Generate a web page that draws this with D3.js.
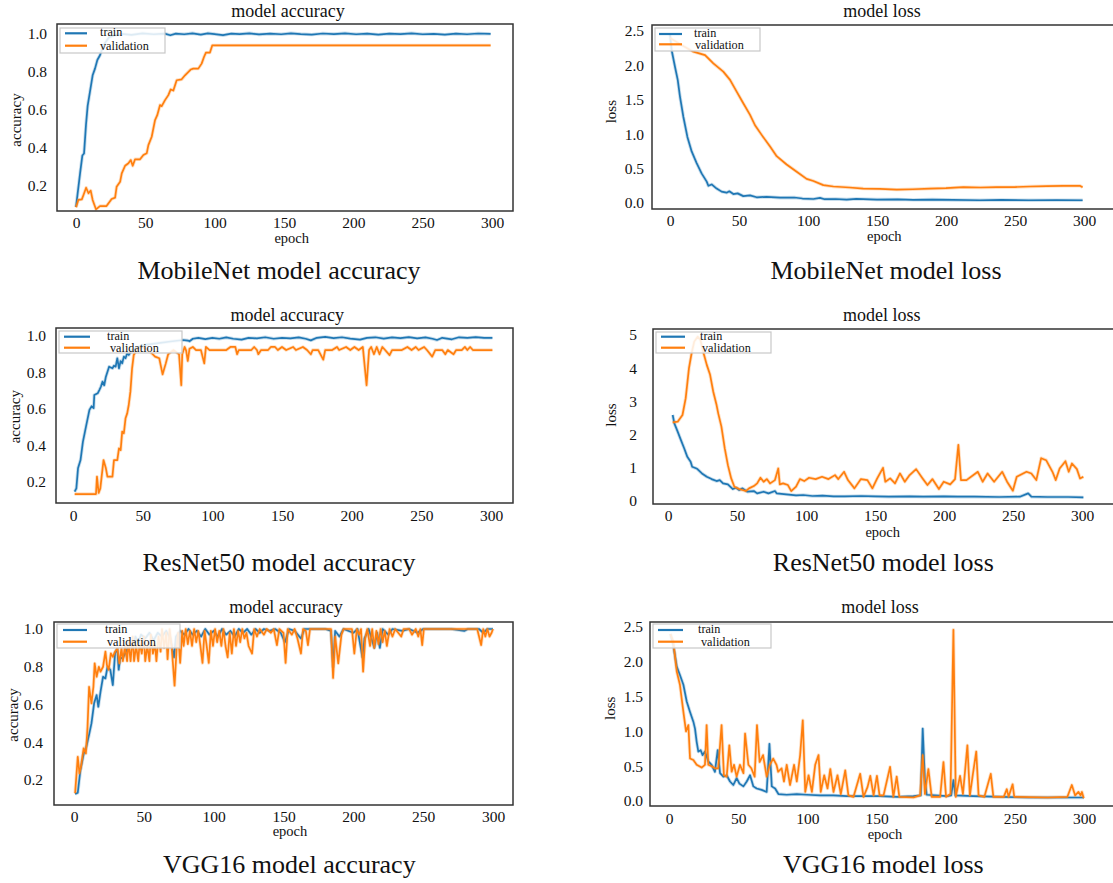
<!DOCTYPE html>
<html>
<head>
<meta charset="utf-8">
<script src="https://cdn.jsdelivr.net/npm/d3@7"></script>
<style>
  body { margin: 0; background: #fff; }
  svg text { font-family: "Liberation Serif", "Times New Roman", serif; fill: #111; }
</style>
</head>
<body>
<svg id="chart" width="1113" height="883"></svg>
<script>
// ---- data: [epoch, value] ----
const mobileAccTrain = [[0,0.09],[3,0.27],[4.6,0.36],[5.8,0.37],[7.2,0.52],[8.4,0.62],[10,0.69],[12,0.78],[13.7,0.815],[15.4,0.86],[17.3,0.885],[18.5,0.91],[21,0.95],[24,0.98],[28,0.99],[33,0.997],[40,0.992],[48,1.0],[56,0.995],[64,0.998],[68,0.99],[72,0.998],[78,0.995],[84,1.0],[90,0.993],[95,1.0],[100,0.996],[106,0.99],[112,0.998],[118,0.996],[125,1.0],[132,0.994],[140,0.998],[148,0.995],[155,1.0],[162,0.996],[170,0.993],[178,0.999],[186,0.996],[194,1.0],[202,0.995],[210,0.998],[218,0.993],[226,0.998],[234,0.996],[242,1.0],[250,0.995],[258,0.997],[266,0.993],[274,0.998],[282,0.995],[290,0.999],[299,0.997]];
const mobileAccVal = [[0,0.089],[1.7,0.127],[4.2,0.13],[5.4,0.153],[7.3,0.191],[9,0.162],[10.6,0.176],[12,0.127],[14.4,0.078],[17.3,0.095],[22,0.095],[25.7,0.132],[28.2,0.139],[29.3,0.196],[31.8,0.222],[33,0.266],[35.4,0.306],[37.8,0.319],[39.5,0.336],[40.9,0.306],[42.6,0.34],[46.2,0.34],[48.6,0.362],[51,0.371],[52.2,0.414],[54.6,0.458],[57,0.545],[58.6,0.571],[60.6,0.624],[61.8,0.618],[64.2,0.65],[66.6,0.676],[68.3,0.706],[70.2,0.7],[72.6,0.754],[76.2,0.759],[78.6,0.78],[82.7,0.81],[84.6,0.815],[88.2,0.815],[90.6,0.841],[92.3,0.876],[93.7,0.899],[96.6,0.899],[98.3,0.937],[299,0.937]];

const mobileLossTrain = [[0,2.45],[1.2,2.22],[3.6,1.98],[5.6,1.79],[7.2,1.55],[9.7,1.25],[12.6,0.96],[15.7,0.75],[19.3,0.58],[22.9,0.43],[26.6,0.31],[27.8,0.25],[30.2,0.27],[33.8,0.21],[37.4,0.165],[41,0.15],[43,0.17],[45.9,0.13],[49,0.14],[53.1,0.1],[58,0.11],[62.8,0.083],[70,0.09],[79.7,0.077],[90,0.08],[96,0.065],[103.9,0.058],[108.7,0.075],[112,0.055],[120,0.058],[128,0.05],[135,0.06],[150,0.05],[165,0.052],[176.3,0.046],[190,0.05],[205,0.044],[224.6,0.04],[240,0.045],[260,0.04],[280,0.042],[299,0.04]];
const mobileLossVal = [[0,2.4],[8,2.3],[16.9,2.2],[25.4,2.15],[31.4,2.03],[38.6,1.91],[43.5,1.79],[48.3,1.62],[53.1,1.45],[58,1.28],[61.6,1.13],[66.4,0.99],[72.5,0.82],[77.3,0.68],[84.5,0.56],[91.8,0.455],[99,0.35],[103.9,0.32],[111.1,0.26],[118.4,0.24],[130,0.225],[140,0.21],[152,0.205],[164.3,0.195],[176,0.2],[188.4,0.21],[200,0.215],[212.6,0.23],[225,0.225],[236.7,0.23],[250,0.232],[260.9,0.24],[273,0.245],[285,0.25],[297,0.25],[299,0.23]];

const resnetAccTrain = [[1.2,0.147],[2.4,0.165],[3.6,0.275],[5.4,0.32],[7.1,0.42],[9.5,0.51],[11.8,0.595],[13.4,0.615],[14.8,0.605],[15.3,0.677],[17.7,0.686],[18.9,0.704],[20,0.722],[21.2,0.75],[22.4,0.73],[23.6,0.777],[25.9,0.832],[28.3,0.823],[29.4,0.837],[30.6,0.832],[31.8,0.878],[33,0.823],[34.2,0.863],[35.3,0.85],[36.5,0.887],[37.7,0.878],[38.9,0.905],[40,0.896],[42,0.92],[50,0.95],[60,0.96],[70,0.97],[79,0.978],[82.4,0.975],[83.6,0.971],[86,0.985],[90,0.99],[95,0.983],[100,0.99],[105,0.985],[110,0.992],[115,0.985],[121,0.98],[126,0.99],[132,0.987],[138,0.993],[144,0.985],[150,0.99],[156,0.987],[162,0.992],[167,0.985],[170.7,0.976],[175,0.99],[181,0.995],[187,0.988],[193,0.993],[199,0.986],[206,0.98],[211,0.99],[217,0.993],[223,0.986],[229,0.992],[235,0.988],[241,0.994],[247,0.987],[253,0.992],[258,0.985],[261.3,0.978],[265,0.99],[271.9,0.982],[277,0.993],[283,0.99],[289,0.994],[295,0.99],[301,0.99]];
const resnetAccVal = [[1.2,0.134],[16.5,0.134],[17.2,0.229],[18.4,0.14],[19.6,0.165],[21.9,0.32],[23.6,0.275],[24.7,0.229],[28.3,0.229],[29.4,0.32],[31.8,0.32],[33,0.384],[34.2,0.375],[35.3,0.476],[36.5,0.467],[37.7,0.549],[38.9,0.576],[40,0.622],[41.2,0.695],[42.4,0.823],[43.6,0.896],[46,0.93],[50,0.94],[54,0.923],[57.2,0.9],[58.9,0.887],[61.9,0.878],[64.3,0.79],[66.6,0.85],[68.3,0.9],[72,0.923],[76.1,0.9],[77.7,0.73],[78.4,0.9],[80.1,0.94],[81.2,0.92],[82.4,0.863],[83.6,0.93],[86,0.94],[88.3,0.923],[91.8,0.923],[94.2,0.85],[95.4,0.94],[98,0.923],[105,0.923],[110,0.923],[113,0.94],[116.5,0.94],[117.8,0.9],[119,0.923],[128,0.923],[130,0.94],[132,0.923],[133,0.9],[135,0.923],[140,0.923],[142,0.94],[145,0.94],[147,0.923],[150,0.94],[153,0.923],[158,0.94],[160,0.923],[165,0.94],[168,0.923],[170.7,0.9],[172,0.923],[176,0.923],[179.6,0.87],[181,0.923],[186,0.923],[189.5,0.94],[191,0.923],[196,0.94],[199,0.923],[202,0.94],[205,0.923],[208,0.94],[210.7,0.73],[212.5,0.923],[214,0.94],[216,0.9],[218,0.94],[220,0.9],[222,0.94],[224,0.923],[227.2,0.895],[229,0.923],[236,0.923],[240,0.94],[243,0.923],[246,0.94],[248,0.923],[252,0.94],[254,0.923],[257.8,0.887],[260,0.923],[265,0.923],[267.2,0.9],[269,0.923],[273.1,0.9],[275,0.923],[279,0.923],[281.3,0.94],[283,0.923],[285,0.94],[287,0.923],[301,0.923]];

const resnetLossTrain = [[3.4,2.59],[4.6,2.34],[7,2.09],[9.3,1.84],[11.7,1.59],[14,1.33],[16.4,1.18],[17.5,1.03],[21.1,0.97],[24.6,0.83],[28.1,0.73],[31.6,0.66],[35.2,0.6],[37.5,0.63],[39.9,0.53],[43.4,0.5],[47,0.36],[49.3,0.4],[51.6,0.33],[54,0.38],[57.5,0.28],[62.2,0.3],[64.6,0.23],[69.3,0.28],[72.8,0.23],[77.5,0.3],[78.7,0.23],[85.7,0.2],[92.8,0.17],[98,0.18],[104.6,0.15],[112,0.16],[120,0.14],[128,0.14],[140,0.15],[150,0.14],[160,0.13],[175,0.14],[185,0.13],[200,0.14],[210,0.13],[222,0.13],[240,0.12],[255,0.13],[261,0.23],[263.3,0.13],[275,0.12],[290,0.12],[301,0.11]];
const resnetLossVal = [[3.4,2.37],[7,2.39],[10.5,2.59],[12.8,3.09],[15.2,4.0],[17.1,4.45],[19,4.8],[21.5,4.95],[23.5,4.85],[25.8,4.45],[28.1,4.1],[30.5,3.8],[32.8,3.29],[35.2,2.89],[36.4,2.64],[38.7,2.24],[41.1,1.59],[43.4,1.08],[45.8,0.68],[48.1,0.43],[51.6,0.36],[56.3,0.3],[58.7,0.38],[62.2,0.45],[64.6,0.53],[67,0.7],[69.3,0.58],[71.6,0.66],[74,0.53],[77.5,0.63],[79.9,0.98],[81,0.5],[83.4,0.53],[86.9,0.48],[89.3,0.3],[92.8,0.43],[95.6,0.66],[98.7,0.6],[102.2,0.7],[107,0.66],[111.6,0.73],[116.3,0.66],[121,0.78],[123.4,0.66],[127.6,0.88],[130.4,0.63],[135.1,0.38],[139.8,0.66],[144.5,0.63],[148.1,0.38],[151.6,0.68],[155.8,1.0],[157.5,0.58],[161,0.68],[164.5,0.53],[168.1,0.83],[171.6,0.58],[175.1,0.78],[179.8,0.96],[184.5,0.68],[188,0.48],[191.6,0.66],[196.3,0.36],[199.8,0.58],[204.5,0.5],[208,0.66],[210.4,1.69],[212.3,0.63],[216.3,0.63],[224.5,0.88],[228,0.58],[231.6,0.83],[236.3,0.58],[242.2,0.88],[245.7,0.58],[249.9,0.31],[252.7,0.73],[259.8,0.88],[263.3,0.83],[266.9,0.63],[270.4,1.29],[274,1.23],[278.6,0.88],[281,0.63],[283.8,0.98],[288,1.2],[290.4,0.88],[292.7,1.13],[296.3,0.96],[298.6,0.68],[301,0.73]];

const vggAccTrain = [[0.8,0.126],[2.7,0.133],[4.6,0.253],[7,0.341],[8.6,0.368],[11,0.447],[12.5,0.5],[14.4,0.606],[16.2,0.65],[17.4,0.588],[19,0.668],[20.8,0.747],[22.5,0.738],[24,0.8],[26,0.784],[27.8,0.703],[29.4,0.871],[31,0.897],[32,0.784],[33,0.843],[35.4,0.852],[37.8,0.888],[40,0.93],[42,0.9],[44,0.96],[46,0.93],[48,0.97],[51,0.95],[54,0.98],[57,0.94],[60,0.98],[63,0.96],[66,0.99],[69,0.95],[71.6,0.85],[73,0.96],[76,0.99],[79,0.97],[82,1.0],[85,0.97],[88,0.99],[91,0.96],[94,1.0],[97,0.97],[100,0.99],[103,0.96],[106,1.0],[109,0.97],[112,0.99],[115,0.96],[118,1.0],[121,0.98],[124,1.0],[127,0.97],[130,1.0],[133,0.98],[136,1.0],[140,0.99],[144,1.0],[148,0.98],[151,0.93],[154,1.0],[158,0.99],[162.5,0.95],[165,1.0],[170,1.0],[180,1.0],[184,0.99],[185.5,0.8],[187,0.99],[190,0.96],[193,1.0],[200,0.98],[203,1.0],[206.5,0.85],[208,0.95],[211,1.0],[215,0.9],[217,0.98],[219,0.9],[221,1.0],[225,0.97],[228,1.0],[235,0.99],[240,1.0],[246,0.98],[250,1.0],[260,1.0],[270,1.0],[279.4,0.99],[282,1.0],[290,1.0],[293,0.98],[296,1.0],[300,1.0]];
const vggAccVal = [[0.8,0.13],[2.7,0.323],[3.9,0.235],[5,0.27],[6.9,0.368],[8.5,0.341],[9.7,0.482],[10.8,0.694],[12.5,0.606],[13.9,0.694],[14.8,0.818],[16.2,0.747],[17.8,0.8],[19,0.774],[20.8,0.8],[22.5,0.88],[23.6,0.808],[24.8,0.784],[26.4,0.871],[27.8,0.852],[29.4,0.88],[31.1,0.897],[32.5,0.818],[34,0.9],[35,0.83],[36.5,0.91],[38,0.83],[39,0.93],[40.5,0.83],[42,0.96],[43,0.83],[44.5,0.91],[46,0.83],[47,0.93],[48.5,0.87],[50,0.96],[51,0.83],[52.5,0.91],[54,0.83],[55,0.97],[56.5,0.87],[58,0.92],[59,0.83],[60.5,0.96],[62,0.88],[63,1.0],[64.5,0.9],[66,0.98],[67,0.84],[68.5,1.0],[70,0.9],[72,0.7],[73.5,0.9],[74.5,0.98],[76,0.82],[77.5,0.99],[78.5,0.91],[80,1.0],[81.5,0.92],[83,0.99],[84.5,0.91],[86,1.0],[87.5,0.93],[89,0.99],[90.5,0.91],[92,0.82],[93.5,0.99],[95,0.91],[96.5,0.82],[98,0.99],[99.5,0.91],[101,1.0],[102.5,0.93],[104,0.99],[105.5,0.91],[107,1.0],[108.5,0.91],[110,0.85],[111.5,0.98],[113,0.87],[114.5,1.0],[116,0.91],[117.5,0.99],[119,0.93],[120.5,1.0],[122,0.95],[123.5,0.98],[125,0.91],[127.5,0.87],[129,1.0],[131,0.96],[133,1.0],[136,0.97],[138,1.0],[141,0.98],[143,1.0],[145.3,0.915],[147,1.0],[150,0.98],[151.5,0.82],[153,1.0],[156,0.97],[158,1.0],[160,0.95],[162.5,0.87],[164,1.0],[166,0.99],[167.5,0.915],[169,1.0],[184,1.0],[185.5,0.74],[187,0.96],[189.2,0.818],[191.5,0.97],[193,1.0],[199,1.0],[200.7,0.87],[202.5,1.0],[204.2,0.97],[205.5,1.0],[207,0.774],[208.5,0.95],[210,1.0],[212,0.91],[213.5,1.0],[215,0.9],[216.5,0.99],[218,0.92],[219.5,1.0],[221,0.93],[222.5,0.99],[224,0.91],[226,1.0],[228,0.96],[230,1.0],[234.3,0.96],[236,1.0],[240,1.0],[242,0.97],[244.7,1.0],[246.5,0.96],[248,1.0],[249.3,0.915],[250.5,1.0],[288.7,1.0],[291.5,0.915],[293,1.0],[294.5,0.96],[296,1.0],[297.5,0.96],[299,0.98],[300,1.0]];

const vggLossTrain = [[1,2.4],[3.1,2.24],[5.6,1.93],[7.9,1.81],[10.4,1.67],[12.8,1.43],[15.2,1.28],[17.6,1.14],[18.8,1.04],[20,0.85],[21.2,0.71],[22.9,0.73],[24.3,0.66],[26,0.71],[28.4,0.57],[30.8,0.52],[33.2,0.42],[35.2,0.73],[36.9,0.4],[39.3,0.35],[41.7,0.37],[44.1,0.28],[46.5,0.23],[48.9,0.33],[50.9,0.25],[53.8,0.21],[56.2,0.28],[58.6,0.37],[61,0.21],[63.4,0.18],[67,0.16],[70.6,0.13],[72.6,0.82],[74.3,0.21],[76.7,0.18],[79.1,0.1],[85.1,0.09],[92.4,0.1],[99.6,0.09],[109.2,0.08],[118.9,0.08],[128.5,0.07],[140.6,0.07],[152.6,0.07],[165,0.06],[176.7,0.07],[182,0.08],[183.4,1.04],[185,0.3],[186.3,0.09],[200.8,0.07],[204,0.08],[205.6,0.3],[207,0.08],[220,0.07],[240,0.06],[260,0.05],[280,0.05],[300,0.05]];
const vggLossVal = [[1,2.4],[3.1,2.29],[5.6,1.86],[7.9,1.67],[10.4,1.28],[12.3,1.0],[14,1.09],[15.2,0.61],[17.6,0.59],[20,0.52],[23.6,0.48],[26,0.52],[27.2,1.09],[28.4,0.52],[30.8,0.5],[33.2,0.47],[35.6,0.47],[38,1.09],[39.7,0.37],[41.7,0.35],[43.6,0.8],[45.3,0.42],[47,0.52],[48.9,0.35],[51.3,0.52],[53.8,0.4],[55,0.97],[57.4,0.52],[59.5,0.47],[61.9,0.35],[63.6,1.09],[65.5,0.56],[68,0.66],[70.6,0.35],[72.9,0.52],[75.3,0.61],[77.7,0.52],[78.9,0.42],[81.4,0.47],[83.1,0.28],[85.1,0.52],[87.5,0.23],[90.4,0.52],[92.4,0.28],[94.8,0.66],[96.7,1.16],[98.5,0.13],[100.9,0.37],[103.3,0.13],[105.7,0.52],[108.1,0.66],[109.7,0.13],[112.2,0.37],[114.6,0.18],[116.6,0.46],[118.9,0.13],[121.8,0.37],[124.2,0.1],[127.4,0.44],[129.7,0.08],[133.4,0.06],[138.2,0.39],[140.6,0.06],[143.5,0.2],[145.5,0.36],[147.9,0.08],[150.3,0.36],[152.2,0.08],[155.1,0.08],[159.8,0.49],[162.2,0.06],[164.6,0.35],[166.5,0.06],[176.7,0.05],[181.5,0.08],[183.4,0.66],[185,0.1],[187.5,0.46],[189.9,0.06],[196,0.06],[198.4,0.56],[200.3,0.06],[203.5,0.1],[205.6,2.46],[207.3,0.06],[210.4,0.36],[212.5,0.1],[215.7,0.8],[217.5,0.08],[219.7,0.39],[222.1,0.71],[223.8,0.08],[228,0.06],[232.6,0.39],[234.5,0.06],[242,0.06],[244.2,0.17],[245.5,0.06],[248.4,0.24],[249.6,0.06],[273.7,0.05],[288,0.06],[291.2,0.23],[293.6,0.08],[296,0.13],[297.5,0.08],[298.5,0.13],[299.8,0.04]];

const xTicks = [0, 50, 100, 150, 200, 250, 300];
const accTicks = [0.2, 0.4, 0.6, 0.8, 1.0];
const lossTicksHalf = [0.0, 0.5, 1.0, 1.5, 2.0, 2.5];
const lossTicksInt = [0, 1, 2, 3, 4, 5];
const seriesNames = ["train", "validation"];
const titles = ["model accuracy", "model loss", "model accuracy", "model loss", "model accuracy", "model loss"];
const captions = ["MobileNet model accuracy", "MobileNet model loss", "ResNet50 model accuracy", "ResNet50 model loss", "VGG16 model accuracy", "VGG16 model loss"];
const yLabels = ["accuracy", "loss", "accuracy", "loss", "accuracy", "loss"];

const colors = ["#1f77b4", "#ff7f0e"];

// ---- layout for each panel (pixels) ----
const panels = [
  {train: mobileAccTrain, val: mobileAccVal, box: [57, 513, 24, 211], xPx: [76, 492], yDom: [0.2, 1.0], yPx: [186, 33.3], yTicks: accTicks, fmt: ".1f", yGap: 10,
   xTickTop: 217, epoch: [291.7, 243], title: [288, 17], ylab: [16, 120], cap: [279, 279],
   leg: {box: [60, 165, 28, 53], line: [65, 87], y: [33.3, 45.7], tx: [100, 100]}},
  {train: mobileLossTrain, val: mobileLossVal, box: [652, 1114, 25, 209], xPx: [670, 1084], yDom: [0, 2.5], yPx: [203, 31], yTicks: lossTicksHalf, fmt: ".1f", yGap: 8,
   xTickTop: 214.5, epoch: [884.3, 241], title: [882, 17], ylab: [611.7, 111.7], cap: [886, 279],
   leg: {box: [655, 760, 28, 51], line: [659, 682], y: [34, 44.3], tx: [694, 695]}},
  {train: resnetAccTrain, val: resnetAccVal, box: [56, 513, 328, 503], xPx: [73, 491], yDom: [0.2, 1.0], yPx: [482, 336], yTicks: accTicks, fmt: ".1f", yGap: 10,
   xTickTop: 510, epoch: null, title: [287.3, 320.7], ylab: [15, 416.7], cap: [279, 570.7],
   leg: {box: [59, 182, 331, 353], line: [64, 90], y: [336.7, 347.7], tx: [107, 110]}},
  {train: resnetLossTrain, val: resnetLossVal, box: [653, 1114, 329, 504], xPx: [668, 1082], yDom: [0, 5], yPx: [501, 335], yTicks: lossTicksInt, fmt: "d", yGap: 16,
   xTickTop: 509.5, epoch: [882.7, 537], title: [881.7, 320.7], ylab: [611.7, 415], cap: [883.3, 570.7],
   leg: {box: [656, 771, 332, 353], line: [661, 685], y: [336.7, 347.7], tx: [700, 702]}},
  {train: vggAccTrain, val: vggAccVal, box: [54, 513, 622, 805], xPx: [74, 493], yDom: [0.2, 1.0], yPx: [780, 629], yTicks: accTicks, fmt: ".1f", yGap: 11,
   xTickTop: 811, epoch: [290, 836], title: [286, 613.3], ylab: [13.3, 715], cap: [289.3, 873.3],
   leg: {box: [57, 180, 624, 648], line: [63, 87], y: [630, 641.7], tx: [105, 107]}},
  {train: vggLossTrain, val: vggLossVal, box: [650, 1114, 622, 806], xPx: [669, 1084], yDom: [0, 2.5], yPx: [801, 627], yTicks: lossTicksHalf, fmt: ".1f", yGap: 7,
   xTickTop: 812.5, epoch: [885, 839], title: [880, 613.3], ylab: [610, 708.3], cap: [883.3, 873.3],
   leg: {box: [653, 771, 624, 648], line: [658, 683], y: [630, 641.7], tx: [698, 701]}}
];

const svg = d3.select("#chart");
const defs = svg.append("defs");

panels.forEach((p, i) => {
  const [l, r, t, b] = p.box;
  let x = d3.scaleLinear().domain([0, 300]).range(p.xPx);
  let y = d3.scaleLinear().domain(p.yDom).range(p.yPx);
  let g = svg.append("g");

  defs.append("clipPath").attr("id", "clip" + i)
    .append("rect").attr("x", l).attr("y", t).attr("width", r - l).attr("height", b - t);

  let line = d3.line().x(d => x(d[0])).y(d => y(d[1]));
  let plot = g.append("g").attr("clip-path", `url(#clip${i})`);
  [p.train, p.val].forEach((s, k) => {
    // soft halo like the blurry original
    plot.append("path").attr("d", line(s)).attr("fill", "none")
      .attr("stroke", colors[k]).attr("stroke-width", 3.4).attr("stroke-opacity", 0.25)
      .attr("stroke-linejoin", "round");
    plot.append("path").attr("d", line(s)).attr("fill", "none")
      .attr("stroke", colors[k]).attr("stroke-width", 1.7)
      .attr("stroke-linejoin", "round");
  });

  // frame
  g.append("rect").attr("x", l).attr("y", t).attr("width", r - l).attr("height", b - t)
    .attr("fill", "none").attr("stroke", "#333").attr("stroke-width", 1.5);

  // x axis labels
  let xa = g.append("g").attr("transform", `translate(0,${p.xTickTop})`)
    .call(d3.axisBottom(x).tickValues(xTicks).tickSize(0).tickPadding(0));
  xa.select(".domain").remove();
  xa.selectAll("text").attr("font-size", 15.5).attr("font-family", null).attr("fill", "#111");

  // y axis labels
  let ya = g.append("g").attr("transform", `translate(${l},0)`)
    .call(d3.axisLeft(y).tickValues(p.yTicks).tickFormat(d3.format(p.fmt)).tickSize(0).tickPadding(p.yGap));
  ya.select(".domain").remove();
  ya.selectAll("text").attr("font-size", 15.5).attr("font-family", null).attr("fill", "#111");

  g.append("text").attr("x", p.title[0]).attr("y", p.title[1])
    .attr("text-anchor", "middle").attr("font-size", 18).text(titles[i]);

  g.append("text").attr("transform", `translate(${p.ylab[0]},${p.ylab[1]}) rotate(-90)`)
    .attr("dy", "0.3em").attr("text-anchor", "middle").attr("font-size", 15).text(yLabels[i]);

  if (p.epoch) {
    g.append("text").attr("x", p.epoch[0]).attr("y", p.epoch[1])
      .attr("text-anchor", "middle").attr("font-size", 14.5).text("epoch");
  }

  g.append("text").attr("x", p.cap[0]).attr("y", p.cap[1])
    .attr("text-anchor", "middle").attr("font-size", 26).text(captions[i]);

  // legend
  let lg = g.append("g");
  let lb = p.leg.box;
  lg.append("rect").attr("x", lb[0]).attr("y", lb[2]).attr("width", lb[1] - lb[0]).attr("height", lb[3] - lb[2])
    .attr("fill", "#fff").attr("fill-opacity", 0.85).attr("stroke", "#c8c8c8").attr("stroke-width", 1.2);
  seriesNames.forEach((name, k) => {
    lg.append("line").attr("x1", p.leg.line[0]).attr("x2", p.leg.line[1])
      .attr("y1", p.leg.y[k]).attr("y2", p.leg.y[k])
      .attr("stroke", colors[k]).attr("stroke-width", 2.2);
    lg.append("text").attr("x", p.leg.tx[k]).attr("y", p.leg.y[k] + (k ? 4.5 : 3))
      .attr("font-size", 12.2).text(name);
  });
});
</script>
</body>
</html>
